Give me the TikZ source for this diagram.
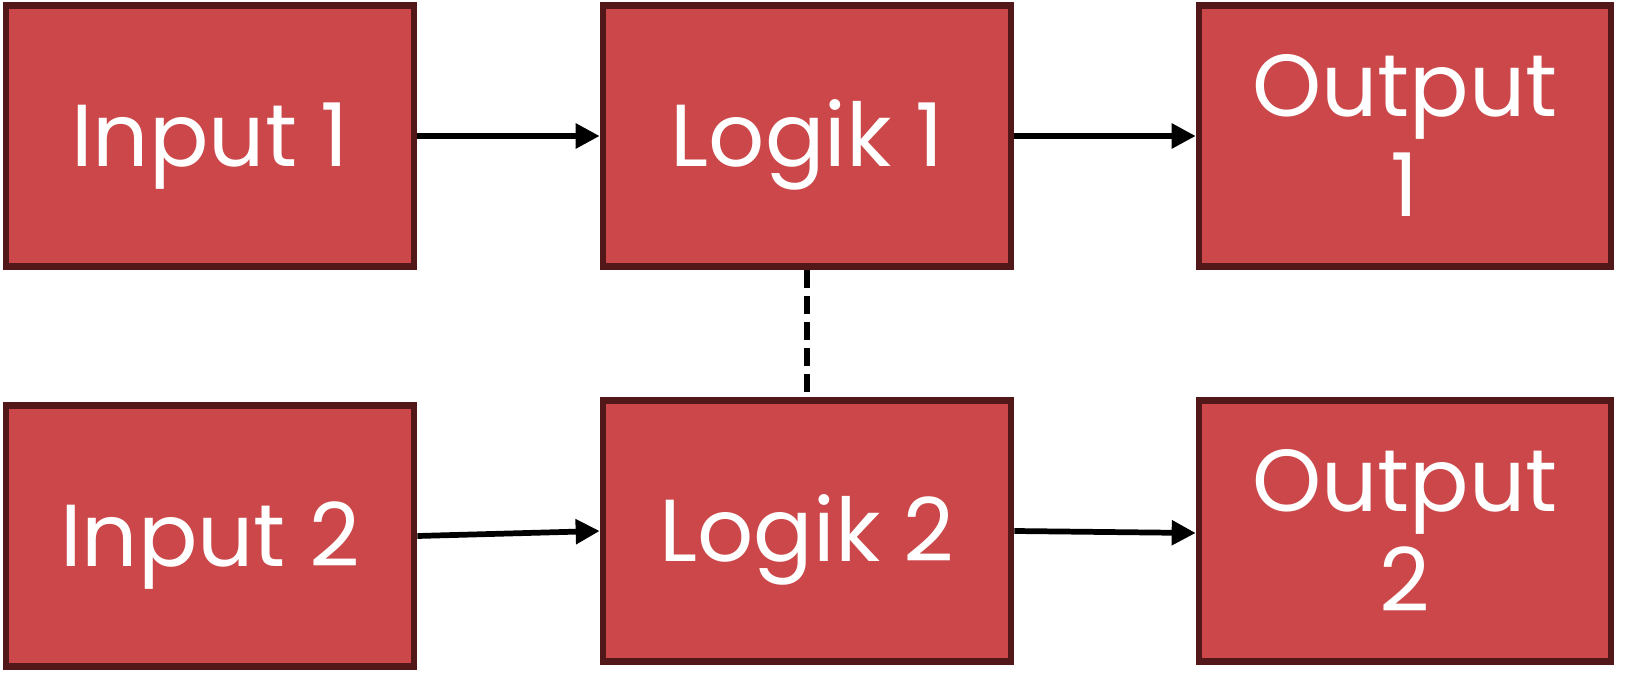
\documentclass[tikz,border=0pt]{standalone}
\usepackage{fontspec}
\setmainfont{Poppins}
\usetikzlibrary{arrows.meta}
\definecolor{boxfill}{HTML}{CB4749}
\definecolor{boxline}{HTML}{521718}
\tikzset{
  blk/.style={draw=boxline, fill=boxfill, line width=5pt, rectangle,
    minimum width=306pt, minimum height=196pt, inner sep=0pt,
    text=white, align=center, font=\fontsize{66}{75}\selectfont,
    text height=46pt, text depth=0pt},
  blk2/.style={blk, minimum width=309pt, text height=121pt},
  conn/.style={line width=4.3pt, -{Triangle[length=18pt,width=18pt]}},
  link/.style={line width=4.3pt, dash pattern=on 13.5pt off 6pt}
}
\begin{document}
\begin{tikzpicture}[x=0.75pt,y=-0.75pt]
\useasboundingbox (0,0) rectangle (1627,681);
\node[blk] (in1) at (210,136) {Input 1};
\node[blk] (lg1) at (807,136) {Logik 1};
\node[blk2] (out1) at (1405,136) {Output\\1};
\node[blk] (in2) at (210,536) {Input 2};
\node[blk] (lg2) at (807,531) {Logik 2};
\node[blk2] (out2) at (1405,531) {Output\\2};
\coordinate (b2) at ([yshift=-1.5pt]out2.west);
\draw[conn] (in1.east) -- (lg1.west);
\draw[conn] (lg1.east) -- (out1.west);
\draw[conn] (in2.east) -- (lg2.west);
\draw[conn] (lg2.east) -- (b2);
\draw[link] (lg1.south) -- (lg2.north);
\end{tikzpicture}
\end{document}
